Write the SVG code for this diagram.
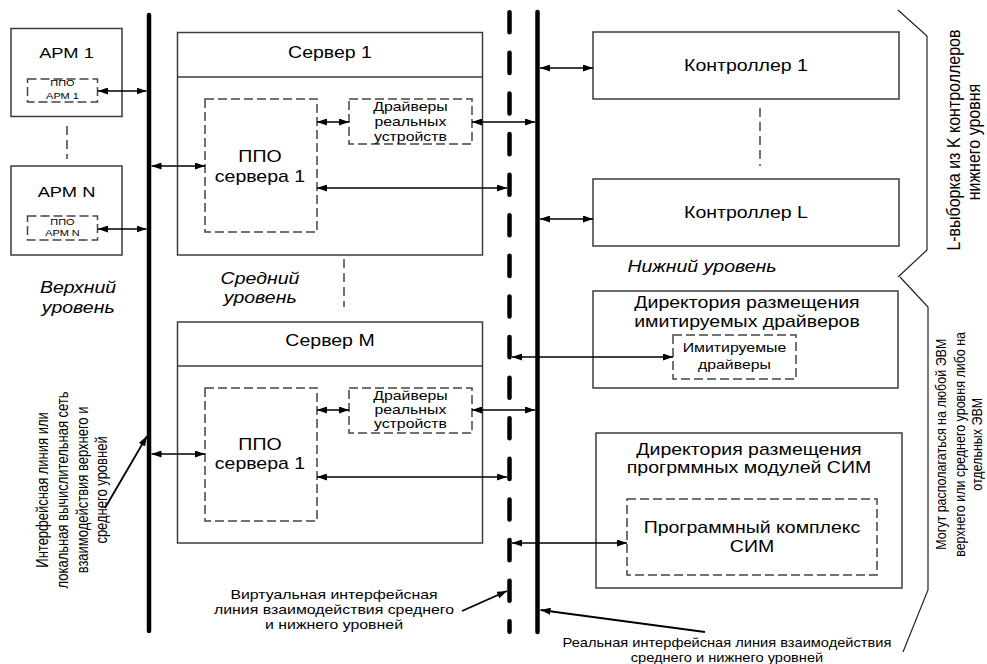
<svg xmlns="http://www.w3.org/2000/svg" width="987" height="664" viewBox="0 0 987 664">
<style>
.box{fill:#fff;stroke:#3c3c3c;stroke-width:1.5}
.hdr{stroke:#3c3c3c;stroke-width:1.5}
.dbox{fill:none;stroke:#444;stroke-width:1.5;stroke-dasharray:9 4}
.dl{fill:none;stroke:#444;stroke-width:1.5;stroke-dasharray:9 5}
.bus{stroke:#000;stroke-width:4.5;stroke-linecap:round;fill:none}
.vbus{stroke:#000;stroke-width:4.5;stroke-linecap:round;fill:none;stroke-dasharray:20.1 20.5}
.c{stroke:#000;stroke-width:1.5;fill:none;marker-start:url(#ah);marker-end:url(#ah)}
.a{stroke:#000;stroke-width:1.8;fill:none;marker-end:url(#ah)}
.br{stroke:#222;stroke-width:1.2;fill:none}
text{font-family:"Liberation Sans",Arial,sans-serif;fill:#000;text-anchor:middle}
.h{transform:scaleX(1.22);transform-box:fill-box;transform-origin:center}
.v{transform:rotate(-90deg) scaleY(1.2);transform-box:fill-box;transform-origin:center}
.f9{font-size:9px}.f12{font-size:12px}.f125{font-size:12.5px}.f13{font-size:13px}.f15{font-size:15px}.f16{font-size:16px}
.it{font-style:italic}
</style>
<defs>
<marker id="ah" viewBox="0 0 10 7" refX="10" refY="3.5" markerWidth="10" markerHeight="7" markerUnits="userSpaceOnUse" orient="auto-start-reverse"><path d="M0,0 L10,3.5 L0,7 z" fill="#000"/></marker>
</defs>
<rect width="987" height="664" fill="#fff"/>

<g id="buses">
<path class="bus" d="M149,15 V631"/>
<path class="vbus" d="M509.5,12.25 V631.75"/>
<path class="bus" d="M537.5,12 V632"/>
</g>

<g id="apm1">
<rect class="box" x="11" y="28.5" width="111" height="88"/>
<text class="h f15" x="66.5" y="58">АРМ 1</text>
<rect class="dbox" x="27.5" y="79" width="70" height="23"/>
<text class="h f9" x="62.5" y="86.5">ППО</text>
<text class="h f9" x="62.5" y="99.5">АРМ 1</text>
</g>
<g id="apmN">
<rect class="box" x="11" y="166" width="111" height="89"/>
<text class="h f15" x="66.5" y="197">АРМ N</text>
<rect class="dbox" x="27.5" y="216" width="70" height="24"/>
<text class="h f9" x="62.5" y="225.5">ППО</text>
<text class="h f9" x="62.5" y="236.5">АРМ N</text>
</g>

<g id="server1">
<rect class="box" x="177.5" y="32.5" width="305" height="222.5"/>
<line class="hdr" x1="177.5" y1="77" x2="482.5" y2="77"/>
<text class="h f16" x="330" y="58">Сервер 1</text>
<rect class="dbox" x="205" y="99" width="112" height="133"/>
<text class="h f16" x="260" y="162">ППО</text>
<text class="h f16" x="260" y="182">сервера 1</text>
<rect class="dbox" x="349" y="99" width="123" height="45"/>
<text class="h f13" x="410.5" y="111.5">Драйверы</text>
<text class="h f13" x="410.5" y="126.5">реальных</text>
<text class="h f13" x="410.5" y="141.5">устройств</text>
</g>

<g id="serverM">
<rect class="box" x="177.5" y="322" width="305" height="221"/>
<line class="hdr" x1="177.5" y1="366" x2="482.5" y2="366"/>
<text class="h f16" x="330" y="346">Сервер M</text>
<rect class="dbox" x="205" y="388" width="112" height="133"/>
<text class="h f16" x="260" y="450">ППО</text>
<text class="h f16" x="260" y="469">сервера 1</text>
<rect class="dbox" x="349" y="388" width="123" height="45"/>
<text class="h f13" x="410.5" y="400.5">Драйверы</text>
<text class="h f13" x="410.5" y="414.5">реальных</text>
<text class="h f13" x="410.5" y="428.5">устройств</text>
</g>

<g id="ctrl1">
<rect class="box" x="593" y="32" width="306" height="67"/>
<text class="h f16" x="746" y="71">Контроллер 1</text>
</g>
<g id="ctrlL">
<rect class="box" x="593" y="179" width="306" height="67"/>
<text class="h f16" x="746" y="218">Контроллер L</text>
</g>

<g id="dirImit">
<rect class="box" x="593" y="291" width="305" height="97"/>
<text class="h f16" x="747" y="308">Директория размещения</text>
<text class="h f16" x="747" y="327">имитируемых драйверов</text>
<rect class="dbox" x="673" y="335" width="123" height="44"/>
<text class="h f13" x="734.5" y="352">Имитируемые</text>
<text class="h f13" x="734.5" y="369">драйверы</text>
</g>

<g id="dirSim">
<rect class="box" x="596" y="433" width="306" height="155"/>
<text class="h f16" x="749" y="455">Директория размещения</text>
<text class="h f16" x="749" y="473">прогрммных модулей СИМ</text>
<rect class="dbox" x="627" y="499" width="250" height="76"/>
<text class="h f16" x="752" y="533">Программный комплекс</text>
<text class="h f16" x="752" y="552">СИМ</text>
</g>

<g id="levels">
<text class="h f16 it" x="78" y="293">Верхний</text>
<text class="h f16 it" x="78" y="313">уровень</text>
<text class="h f16 it" x="260" y="284">Средний</text>
<text class="h f16 it" x="260" y="303">уровень</text>
<text class="h f16 it" x="702" y="272">Нижний уровень</text>
</g>

<g id="dashes">
<path class="dl" d="M67,126 V159"/>
<path class="dl" d="M344,259 V307"/>
<path class="dl" d="M760,108 V166"/>
</g>

<g id="braces">
<polyline class="br" points="898,10 927,36 927,250 898,277"/>
<polyline class="br" points="900,277 928,307 928,590 903,652"/>
<text class="v f16" x="953" y="145.5">L-выборка из K контроллеров</text>
<text class="v f16" x="973" y="147.5">нижнего уровня</text>
<text class="v f125" x="941" y="448.3">Могут располагаться на любой ЭВМ</text>
<text class="v f125" x="959.5" y="448.3">верхнего или среднего уровня либо на</text>
<text class="v f125" x="977" y="448.3">отдельных ЭВМ</text>
</g>

<g id="notes">
<text class="v f13" x="43" y="494.5">Интерфейсная линия или</text>
<text class="v f13" x="63" y="494.5">локальная вычислительная сеть</text>
<text class="v f13" x="83" y="494.5">взаимодействия верхнего и</text>
<text class="v f13" x="102" y="494.5">среднего уровней</text>
<text class="h f13" x="334" y="599.5">Виртуальная интерфейсная</text>
<text class="h f13" x="334" y="614.5">линия взаимодействия среднего</text>
<text class="h f13" x="334" y="629.5">и нижнего уровней</text>
<text class="h f12" x="727" y="647.5">Реальная интерфейсная линия взаимодействия</text>
<text class="h f12" x="727" y="662">среднего и нижнего уровней</text>
</g>

<g id="connectors">
<path class="c" d="M98,91 H146.5"/>
<path class="c" d="M98,229 H146.5"/>
<path class="c" d="M151.5,166 H205"/>
<path class="c" d="M317,122 H349"/>
<path class="c" d="M472,122 H535"/>
<path class="c" d="M317,188 H507"/>
<path class="c" d="M540,68 H593"/>
<path class="c" d="M540,219 H593"/>
<path class="c" d="M151.5,454 H205"/>
<path class="c" d="M317,410 H349"/>
<path class="c" d="M472,410 H535"/>
<path class="c" d="M317,477 H507"/>
<path class="c" d="M512,357 H673"/>
<path class="c" d="M512,543 H627"/>
<path class="a" d="M105,508 L147,436"/>
<path class="a" d="M462,611 L507,591"/>
<path class="a" d="M705,632 L540.5,610"/>
</g>
</svg>
